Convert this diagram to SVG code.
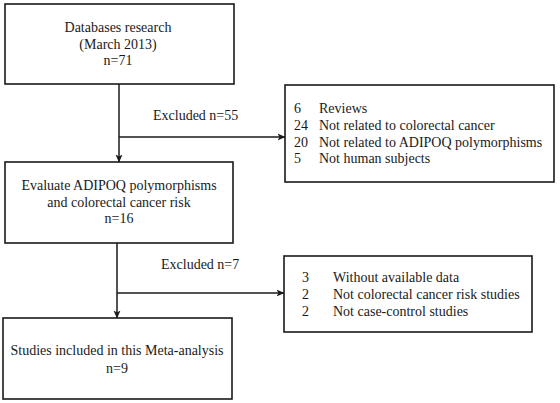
<svg xmlns="http://www.w3.org/2000/svg" width="560" height="403" viewBox="0 0 560 403">
  <style>
    .box { fill: #ffffff; stroke: #1a1a1a; stroke-width: 1.6; }
    .conn { fill: none; stroke: #1a1a1a; stroke-width: 1.5; }
    text { font-family: "Liberation Serif", "Times New Roman", serif; font-size: 14px; fill: #1a1a1a; }
    .c { text-anchor: middle; }
  </style>
  <defs>
    <marker id="arrow" viewBox="0 0 8 8" refX="7.5" refY="4" markerWidth="8" markerHeight="8" markerUnits="userSpaceOnUse" orient="auto">
      <path d="M0,0.5 L8,4 L0,7.5 L2,4 z" fill="#1a1a1a"/>
    </marker>
  </defs>
  <rect width="560" height="403" fill="#ffffff"/>

  <g id="connectors">
    <line class="conn" x1="119" y1="84" x2="119" y2="162" marker-end="url(#arrow)"/>
    <line class="conn" x1="119" y1="137" x2="285" y2="137" marker-end="url(#arrow)"/>
    <text x="153" y="120">Excluded n=55</text>
    <line class="conn" x1="117" y1="243" x2="117" y2="318" marker-end="url(#arrow)"/>
    <line class="conn" x1="117" y1="293" x2="284" y2="293" marker-end="url(#arrow)"/>
    <text x="161" y="269">Excluded n=7</text>
  </g>

  <g id="databases">
    <rect class="box" x="5" y="4" width="229" height="80"/>
    <text class="c" x="118" y="32">Databases research</text>
    <text class="c" x="118" y="49">(March 2013)</text>
    <text class="c" x="118" y="65">n=71</text>
  </g>

  <g id="excluded1">
    <rect class="box" x="285" y="85" width="269" height="97"/>
    <text x="294" y="113">6</text><text x="319" y="113">Reviews</text>
    <text x="294" y="130">24</text><text x="319" y="130">Not related to colorectal cancer</text>
    <text x="294" y="147">20</text><text x="319" y="147">Not related to ADIPOQ polymorphisms</text>
    <text x="294" y="163">5</text><text x="319" y="163">Not human subjects</text>
  </g>

  <g id="evaluate">
    <rect class="box" x="5" y="162" width="228" height="81"/>
    <text class="c" x="119" y="190">Evaluate ADIPOQ polymorphisms</text>
    <text class="c" x="119" y="207">and colorectal cancer risk</text>
    <text class="c" x="119" y="223">n=16</text>
  </g>

  <g id="excluded2">
    <rect class="box" x="284" y="256" width="248" height="76"/>
    <text x="302" y="282">3</text><text x="333" y="282">Without available data</text>
    <text x="302" y="299">2</text><text x="333" y="299">Not colorectal cancer risk studies</text>
    <text x="302" y="316">2</text><text x="333" y="316">Not case-control studies</text>
  </g>

  <g id="included">
    <rect class="box" x="3" y="318" width="229" height="81"/>
    <text class="c" x="117" y="355">Studies included in this Meta-analysis</text>
    <text class="c" x="117" y="373">n=9</text>
  </g>
</svg>
